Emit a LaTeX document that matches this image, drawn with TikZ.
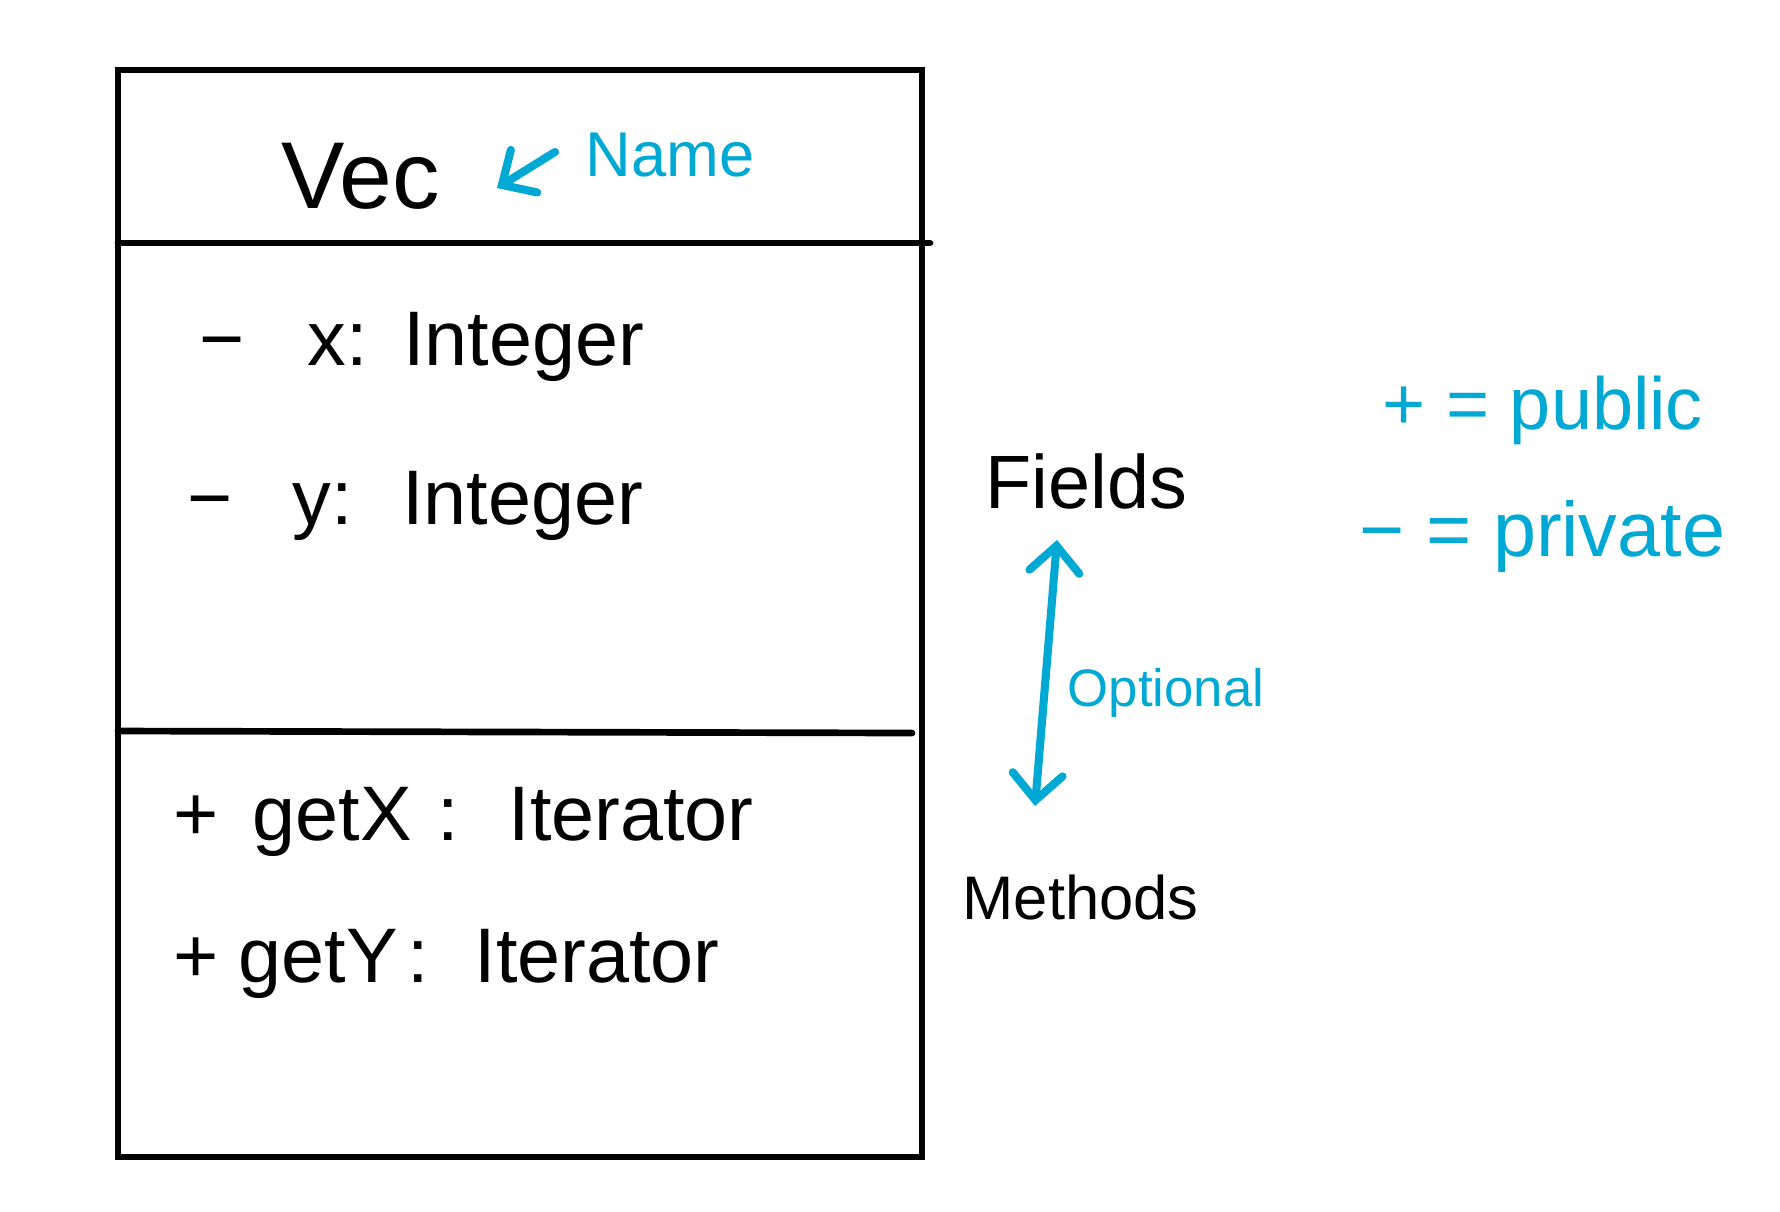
\documentclass[tikz,border=0pt]{standalone}
\usepackage{fontspec}
\setmainfont{Liberation Sans}
\usepackage{xcolor}
\usepackage{tikz}
\usetikzlibrary{arrows.meta}
\definecolor{penblue}{RGB}{0,168,212}

\begin{document}
\begin{tikzpicture}[
    x=0.01cm, y=-0.01cm,
    >={Straight Barb[length=2.6mm, width=5mm, line cap=round]},
    boxline/.style={line width=1.9pt, line cap=round},
    pen/.style={line width=2.3pt, line cap=round, line join=round, penblue},
    txt/.style={anchor=base west, inner sep=0pt},
    bluetxt/.style={txt, text=penblue}
]
\useasboundingbox (0,0) rectangle (1780,1211);

% --- KLASSENBOX ---
\draw[boxline] (118,70) rectangle (922,1157);
\draw[boxline] (118,243) -- (930,243);
\draw[boxline] (118,731) -- (912,733);

% --- NAME ---
\node[txt, font=\fontsize{27}{32}\selectfont] (vec) at (281,208) {Vec};
\node[bluetxt, font=\fontsize{18}{22}\selectfont] (name) at (585,176) {Name};
\coordinate (nameTail) at (555,152);
\coordinate (nameTip) at (497,188);
\draw[pen, ->] (nameTail) -- (nameTip);

% --- FELDER ---
\node[txt, font=\fontsize{22}{26}\selectfont] (fieldX) at (199,365) {−\hspace{0.63cm}x:\hspace{0.35cm}Integer};
\node[txt, font=\fontsize{22}{26}\selectfont] (fieldY) at (187,524) {−\hspace{0.6cm}y:\hspace{0.49cm}Integer};

% --- METHODEN ---
\node[txt, font=\fontsize{22}{26}\selectfont] (getX) at (173,840) {+\hspace{0.34cm}getX\hspace{0.25cm}:\hspace{0.5cm}Iterator};
\node[txt, font=\fontsize{22}{26}\selectfont] (getY) at (173,982) {+\hspace{0.2cm}getY\hspace{0.1cm}:\hspace{0.45cm}Iterator};

% --- RECHTS: BEREICHE ---
\node[txt, font=\fontsize{21.5}{26}\selectfont] (fields) at (985,508) {Fields};
\node[txt, font=\fontsize{17.5}{21}\selectfont] (methods) at (962,919) {Methods};

\coordinate (optTop) at (1057,540);
\coordinate (optBot) at (1035,806);
\draw[pen, <->] (optBot) -- (optTop);
\node[bluetxt, font=\fontsize{15}{18}\selectfont] (optional) at (1067,706) {Optional};

% --- LEGENDE ---
\node[bluetxt, font=\fontsize{21}{25}\selectfont] (public) at (1382,429) {+ = public};
\node[bluetxt, font=\fontsize{22}{26}\selectfont] (private) at (1359,556) {− = private};

\end{tikzpicture}
\end{document}
